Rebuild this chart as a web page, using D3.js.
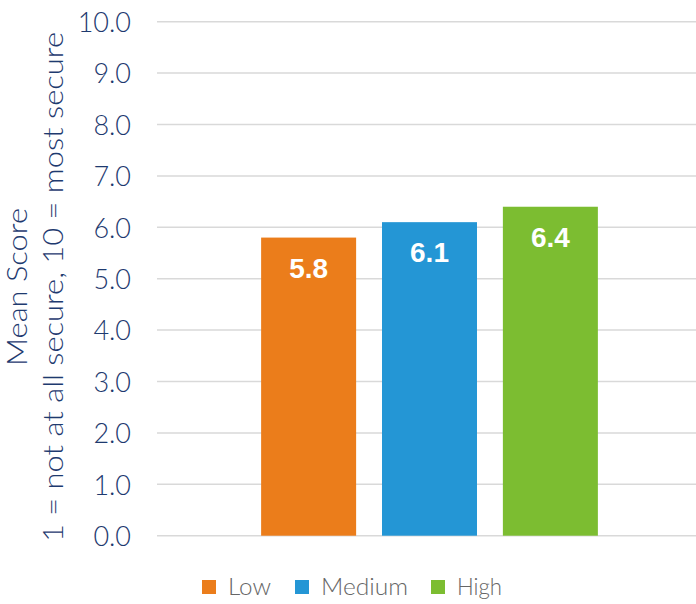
<!DOCTYPE html>
<html>
<head>
<meta charset="utf-8">
<script src="https://cdn.jsdelivr.net/npm/d3@7"></script>
<style>
  body { margin: 0; background: #fff; }
  svg { display: block; }
  text { font-family: "Lato", "Open Sans", sans-serif; }
</style>
</head>
<body>
<svg id="chart" width="696" height="604"></svg>
<script>
// Mean security score by group
const categories = ["Low", "Medium", "High"];
const values = [5.8, 6.1, 6.4];
const colors = ["#EB7D1B", "#2496D5", "#7CBD31"];
const yTicks = [0, 1, 2, 3, 4, 5, 6, 7, 8, 9, 10];

const svg = d3.select("#chart");
const plot = { left: 157, right: 696, top: 21.7, bottom: 535.7 };

const y = d3.scaleLinear().domain([0, 10]).range([plot.bottom, plot.top]);
const x = d3.scaleBand()
  .domain(["", ...categories, " "])
  .range([140, 719])
  .paddingInner(0.21)
  .paddingOuter(0);

// gridlines
svg.append("g")
  .selectAll("line")
  .data(yTicks)
  .join("line")
  .attr("x1", plot.left).attr("x2", plot.right)
  .attr("y1", d => y(d)).attr("y2", d => y(d))
  .attr("stroke", "#D9D9D9").attr("stroke-width", 1.5);

// y axis labels
const yAxis = svg.append("g")
  .attr("transform", `translate(${plot.left - 26},0)`)
  .call(d3.axisLeft(y).tickValues(yTicks).tickFormat(d3.format(".1f")).tickSize(0).tickPadding(0));
yAxis.select(".domain").remove();
yAxis.selectAll("text")
  .attr("fill", "#1E3A6F")
  .attr("dy", "0.36em")
  .style("font-size", "27px")
  .style("font-weight", 300)
  .style("font-family", "Lato, sans-serif");

// axis title (two lines, rotated)
const title = svg.append("text")
  .attr("transform", "rotate(-90)")
  .attr("fill", "#1E3A6F")
  .style("font-size", "27px")
  .style("font-weight", 300)
  .attr("text-anchor", "middle");
title.append("tspan").attr("x", -287).attr("y", 27)
  .attr("textLength", 158).attr("lengthAdjust", "spacingAndGlyphs")
  .text("Mean Score");
title.append("tspan").attr("x", -287).attr("y", 63)
  .attr("textLength", 510).attr("lengthAdjust", "spacingAndGlyphs")
  .text("1 = not at all secure, 10 = most secure");

// bars
const bw = 95;
const barX = d => x(d) + (x.bandwidth() - bw) / 2;
svg.append("g")
  .selectAll("rect")
  .data(categories)
  .join("rect")
  .attr("x", d => barX(d))
  .attr("width", bw)
  .attr("y", (d, i) => y(values[i]))
  .attr("height", (d, i) => y(0) - y(values[i]))
  .attr("fill", (d, i) => colors[i]);

// value labels
svg.append("g")
  .selectAll("text")
  .data(categories)
  .join("text")
  .attr("x", d => barX(d) + bw / 2)
  .attr("y", (d, i) => y(values[i]) + 40)
  .attr("text-anchor", "middle")
  .attr("fill", "#fff")
  .style("font-family", "Liberation Sans, Arial, sans-serif")
  .style("font-weight", "bold")
  .style("font-size", "28px")
  .text((d, i) => d3.format(".1f")(values[i]));

// legend
const legendX = [202, 295, 431];
const legendW = [43, 87, 45];
const legend = svg.append("g")
  .selectAll("g")
  .data(categories)
  .join("g")
  .attr("transform", (d, i) => `translate(${legendX[i]},580)`);
legend.append("rect")
  .attr("width", 14).attr("height", 14)
  .attr("fill", (d, i) => colors[i]);
legend.append("text")
  .attr("x", 26).attr("y", 15)
  .attr("fill", "#666")
  .attr("textLength", (d, i) => legendW[i])
  .attr("lengthAdjust", "spacingAndGlyphs")
  .style("font-size", "23px")
  .style("font-weight", 300)
  .text(d => d);
</script>
</body>
</html>
